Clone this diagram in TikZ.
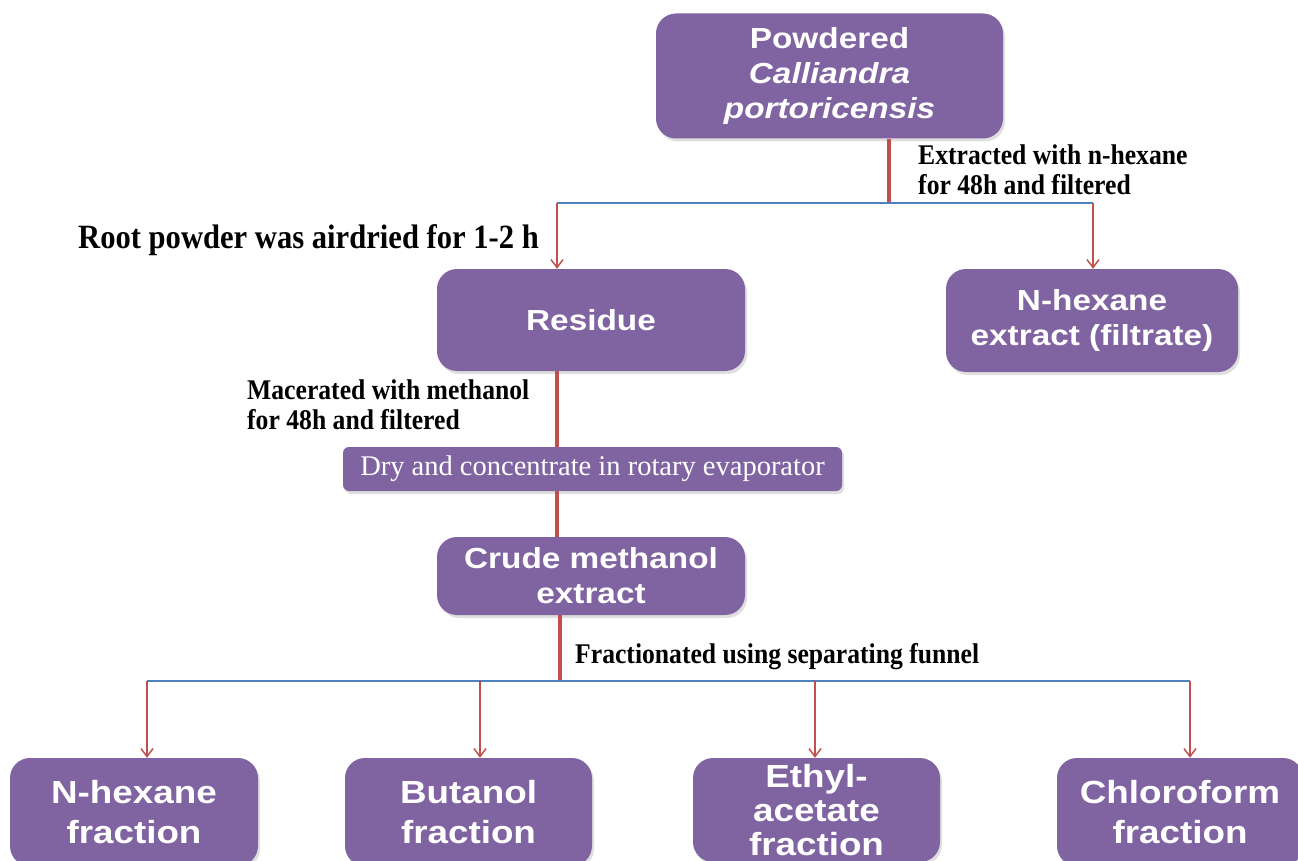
\documentclass[tikz,border=0pt]{standalone}
\usepackage{fontspec}
\setmainfont{Liberation Serif}
\newfontfamily\boxfont[FakeStretch=1.15]{Liberation Sans}
\newfontfamily\notefont[FakeStretch=0.9]{Liberation Serif}
\usetikzlibrary{arrows.meta,shadows}
\definecolor{boxpurple}{HTML}{8064A2}
\definecolor{trunkred}{HTML}{C0504D}
\definecolor{forkblue}{HTML}{4F81BD}

\begin{document}
\begin{tikzpicture}[x=1pt, y=-1pt,
		stepbox/.style={rounded corners=20pt, fill=boxpurple, text=white, align=center, inner sep=0pt,
			drop shadow={shadow xshift=2pt, shadow yshift=-3pt, opacity=0.25},
			font=\boxfont\bfseries\fontsize{29}{35}\selectfont},
		fracbox/.style={stepbox, font=\boxfont\bfseries\fontsize{32}{40}\selectfont},
		drybox/.style={stepbox, rounded corners=6pt, font=\fontsize{28.5}{30}\selectfont},
		note/.style={anchor=west, align=left, inner sep=0pt, font=\notefont\bfseries\fontsize{28.5}{30}\selectfont},
		trunk/.style={line width=4pt, color=trunkred},
		fork/.style={line width=2pt, color=forkblue},
		arr/.style={line width=1.5pt, color=trunkred, -{Straight Barb[length=8pt,width=12pt]}}]
		%%%%% START %%%%%
		
		\useasboundingbox (0, 0) rectangle (1298, 861);
		
		\node[stepbox, minimum width=347, minimum height=125] (powder) at (829.5, 76)
			{Powdered\\\itshape Calliandra\\\itshape portoricensis};
		\node[stepbox, minimum width=308, minimum height=102] (residue) at (591, 320) {Residue};
		\node[stepbox, minimum width=292, minimum height=103] (nhexext) at (1092, 320.5) {N-hexane\\extract (filtrate)};
		\node[drybox, minimum width=499, minimum height=44] (dry) at (592.5, 469) {Dry and concentrate in rotary evaporator};
		\node[stepbox, minimum width=308, minimum height=78] (crude) at (591, 576) {Crude methanol\\extract};
		
		\node[fracbox, minimum width=248, minimum height=108] (nhexfr) at (134, 812) {N-hexane\\fraction};
		\node[fracbox, minimum width=247, minimum height=108] (butanol) at (468.5, 812) {Butanol\\fraction};
		\node[fracbox, minimum width=247, minimum height=104, font=\boxfont\bfseries\fontsize{32}{34}\selectfont] (ethyl) at (816.5, 810)
			{Ethyl-\\acetate\\fraction};
		\node[fracbox, minimum width=246, minimum height=108] (chloro) at (1180, 812) {Chloroform\\fraction};
		
		\node[note] (extnote) at (918, 170) {Extracted with n-hexane\\for 48h and filtered};
		\node[note, font=\notefont\bfseries\fontsize{34}{36}\selectfont] (rootnote) at (78, 240) {Root powder was airdried for 1-2 h};
		\node[note] (macnote) at (247, 405) {Macerated with methanol\\for 48h and filtered};
		\node[note] (fracnote) at (575, 657) {Fractionated using separating funnel};
		
		% first split
		\coordinate (t1) at (889, 203);
		\coordinate (a1) at (557, 203);
		\coordinate (a2) at (1093, 203);
		\draw[trunk] (t1 |- powder.south) -- (t1);
		\draw[fork] (a1) -- (a2);
		\draw[arr] (a1) -- (a1 |- residue.north);
		\draw[arr] (a2) -- (a2 |- nhexext.north);
		
		% methanol line
		\draw[trunk] (a1 |- residue.south) -- (a1 |- dry.north);
		\draw[trunk] (a1 |- dry.south) -- (a1 |- crude.north);
		
		% fractions
		\coordinate (t2) at (560, 681);
		\coordinate (b1) at (147, 681);
		\coordinate (b2) at (480, 681);
		\coordinate (b3) at (815, 681);
		\coordinate (b4) at (1190, 681);
		\draw[trunk] (t2 |- crude.south) -- (t2);
		\draw[fork] (b1) -- (b4);
		\draw[arr] (b1) -- (b1 |- nhexfr.north);
		\draw[arr] (b2) -- (b2 |- butanol.north);
		\draw[arr] (b3) -- (b3 |- ethyl.north);
		\draw[arr] (b4) -- (b4 |- chloro.north);
		
		%%%%% END %%%%%
	\end{tikzpicture}
\end{document}
